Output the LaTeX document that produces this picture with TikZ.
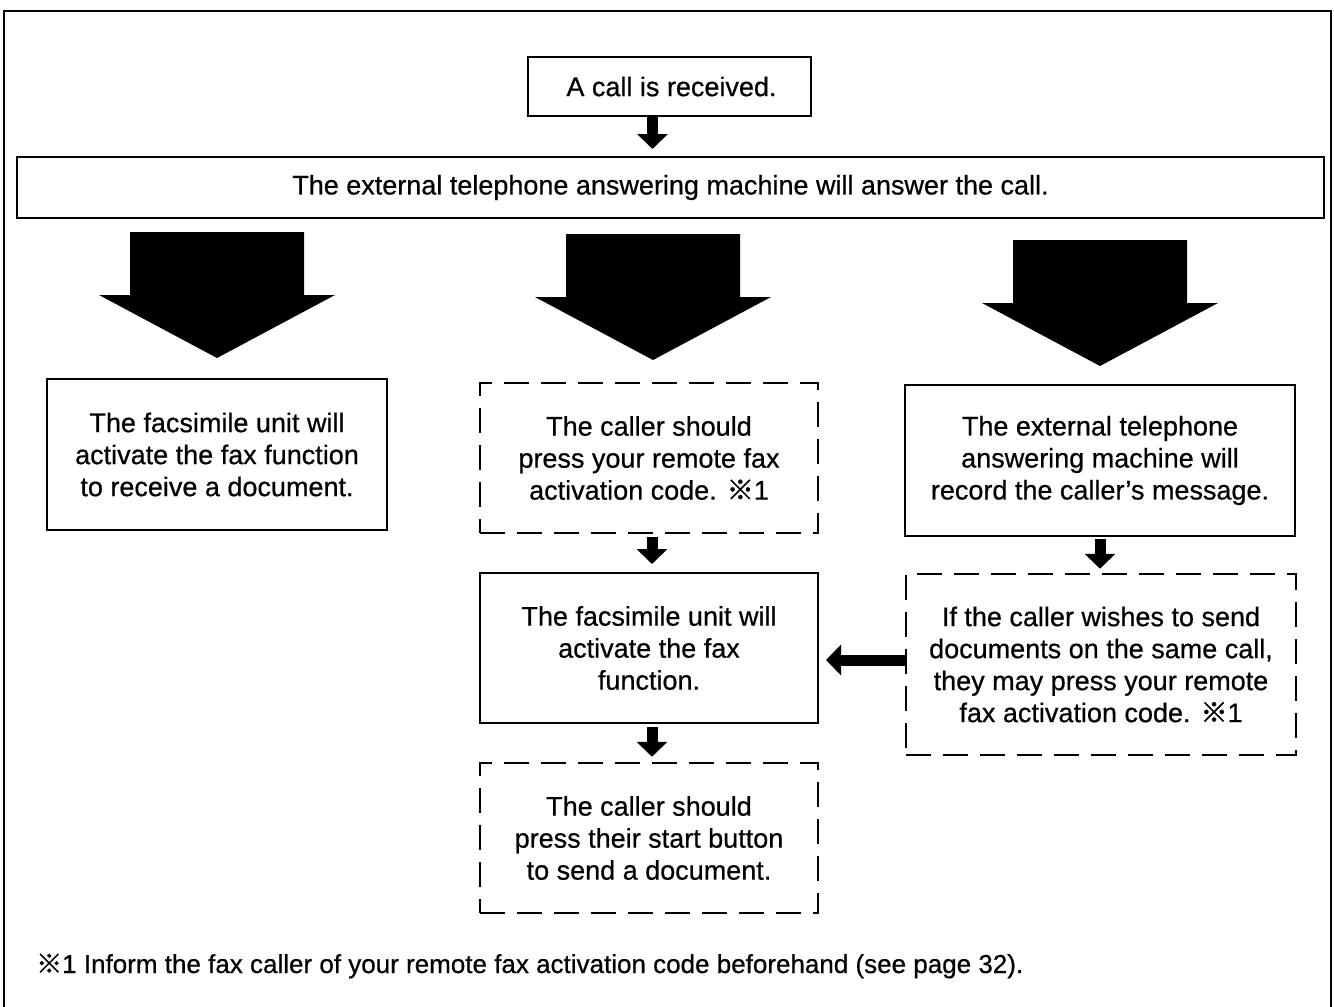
\documentclass[tikz,border=0pt]{standalone}
\usepackage{fontspec}
\setmainfont{Liberation Sans}[FakeBold=0.6]
\newfontfamily\cjkfont{Noto Sans CJK JP}[FakeBold=1.5]
\usetikzlibrary{arrows.meta}
\newcommand{\refmk}{{\cjkfont ※}}
\begin{document}
\begin{tikzpicture}[x=1pt,y=-1pt,
  box/.style={draw, line width=2pt, align=center, inner sep=0pt,
    font=\fontsize{27}{32}\selectfont},
  dbox/.style={box, line width=2.5pt, dash pattern=on 25pt off 12pt},
  smallarrow/.style={line width=11pt, -{Triangle[length=15pt,width=30pt]}},
  bigarrow/.pic={\fill (-87,0) -- (87,0) -- (87,63) -- (118,63) -- (0,126) -- (-118,63) -- (-87,63) -- cycle;}
]
\useasboundingbox (0,0) rectangle (1334,1007);
\fill[white] (0,0) rectangle (1334,1007);
\draw[line width=2pt] (4,1010) -- (4,11) -- (1331,11) -- (1331,1010);

\node[box, minimum width=283pt, minimum height=59pt] (b1) at (669.5,86.5) {\hspace*{4pt}A call is received.};
\node[box, minimum width=1307pt, minimum height=61pt] (b2) at (670.5,187.5) {The external telephone answering machine will answer the call.};

\pic at (217,232) {bigarrow};
\pic at (653,234) {bigarrow};
\pic at (1100,240) {bigarrow};

\node[box, minimum width=340pt, minimum height=151pt] (L) at (217,454.5) {The facsimile unit will\\activate the fax function\\to receive a document.};
\node[dbox, minimum width=338pt, minimum height=150pt] (M1) at (649,458) {The caller should\\press your remote fax\\activation code. \refmk1};
\node[box, minimum width=390pt, minimum height=151pt] (R1) at (1100,460.5) {The external telephone\\answering machine will\\record the caller's message.};
\node[box, minimum width=338pt, minimum height=150pt] (M2) at (649,648) {The facsimile unit will\\activate the fax\\function.};
\node[dbox, minimum width=338pt, minimum height=150pt] (M3) at (649,838) {The caller should\\press their start button\\to send a document.};
\node[dbox, minimum width=390pt, minimum height=181pt] (R2) at (1101,664.5) {If the caller wishes to send\\documents on the same call,\\they may press your remote\\fax activation code. \refmk1};

\draw[smallarrow, shorten >=7pt] ([xshift=-17pt]b1.south) -- ([xshift=-17pt]b1.south |- b2.north);
\draw[smallarrow, shorten <=3pt, shorten >=8pt] ([xshift=3pt]M1.south) -- ([xshift=3pt]M1.south |- M2.north);
\draw[smallarrow, shorten <=3pt, shorten >=5pt] ([xshift=3pt]M2.south) -- ([xshift=3pt]M2.south |- M3.north);
\draw[smallarrow, shorten <=2pt, shorten >=4pt] (R1.south) -- (R1.south |- R2.north);
\draw[smallarrow, shorten >=7pt] (R2.west |- 0,660) -- (M2.east |- 0,660);

\node[anchor=base west, inner sep=0pt, font=\fontsize{26}{32}\selectfont] (fn) at (36,973) {\refmk1 Inform the fax caller of your remote fax activation code beforehand (see page 32).};
\end{tikzpicture}
\end{document}
